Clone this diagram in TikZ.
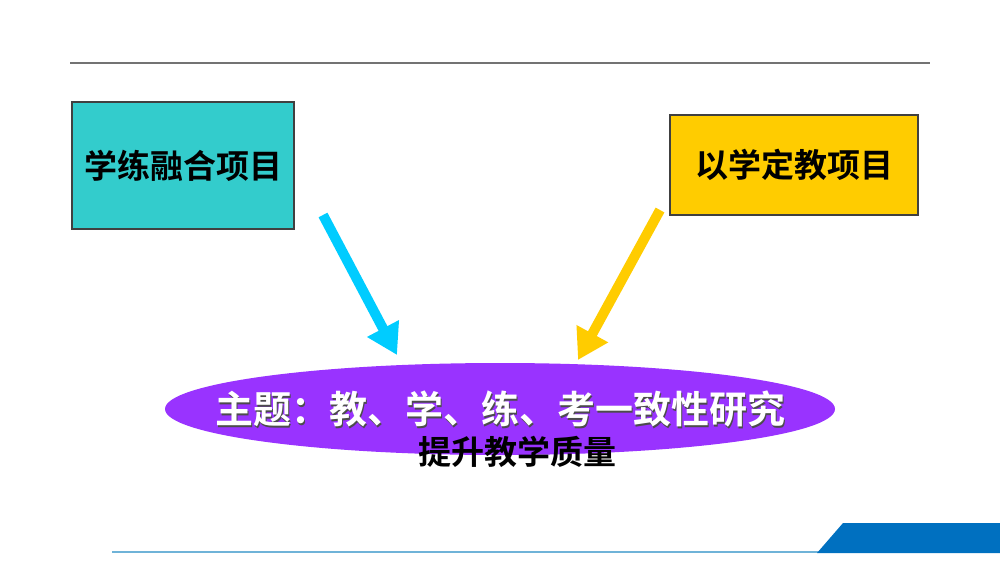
\documentclass[tikz,border=0pt]{standalone}
\usepackage{fontspec}
\newfontfamily\cjkb{Noto Sans CJK SC Bold}
\usetikzlibrary{arrows.meta,shapes.geometric}
\definecolor{tealbox}{HTML}{33CCCC}
\definecolor{yellowbox}{HTML}{FFCC00}
\definecolor{cyanarrow}{HTML}{00CCFF}
\definecolor{purpleell}{HTML}{9933FF}
\definecolor{bluebar}{HTML}{0070C0}
\definecolor{lightline}{HTML}{6FB3D8}
\tikzset{
  boxnode/.style={draw=black!75, line width=0.6pt, inner sep=0pt, font=\cjkb\fontsize{16.5}{18}\selectfont},
  bigarrow/.style={line width=5pt, -{Triangle[width=17pt,length=15pt]}},
  titletext/.style={font=\cjkb\fontsize{19}{22}\selectfont, inner sep=0pt},
  subtext/.style={font=\cjkb\fontsize{16.5}{18}\selectfont, inner sep=0pt}
}
\begin{document}
\begin{tikzpicture}[x=0.5pt,y=-0.5pt]
\useasboundingbox[fill=white] (0,0) rectangle (1000,562);
% top line
\coordinate (tl1) at (70,63);
\coordinate (tl2) at (930,63);
\draw[line width=1pt, black!55] (tl1) -- (tl2);
% boxes
\node[boxnode, fill=tealbox, minimum width=111pt, minimum height=63.5pt] (left) at (183,165.5) {学练融合项目};
\node[boxnode, fill=yellowbox, minimum width=124pt, minimum height=50pt] (right) at (794,165) {以学定教项目};
% ellipse
\node[ellipse, fill=purpleell, inner sep=0pt, minimum width=335pt, minimum height=46pt] (theme) at (500,409) {};
\node[titletext, text=black!70] (themeshadow) at (501.5,410.5) {主题：教、学、练、考一致性研究};
\node[titletext, text=white] (themetext) at (500,409) {主题：教、学、练、考一致性研究};
\node[subtext] (sub) at (517,452) {提升教学质量};
% arrows
\coordinate (la1) at (323,215);
\coordinate (la2) at (397,355);
\coordinate (ra1) at (660,210);
\coordinate (ra2) at (578,360);
\draw[bigarrow, cyanarrow] (la1) -- (la2);
\draw[bigarrow, yellowbox] (ra1) -- (ra2);
% bottom decoration
\coordinate (bl1) at (112,552);
\coordinate (bl2) at (820,552);
\draw[line width=0.8pt, lightline] (bl1) -- (bl2);
\fill[bluebar] (817,553) -- (843,523) -- (1000,523) -- (1000,553) -- cycle;
\end{tikzpicture}
\end{document}
